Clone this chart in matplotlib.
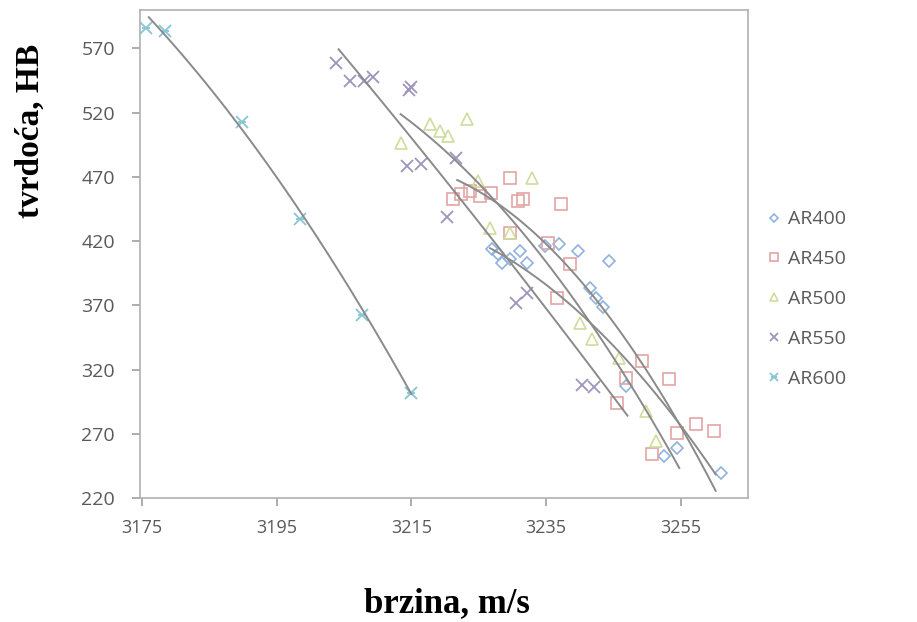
import numpy as np
import matplotlib
matplotlib.use("Agg")
import matplotlib.pyplot as plt
from matplotlib.legend_handler import HandlerTuple

ar400_x = [3227.0, 3227.9, 3228.5, 3229.7, 3231.1, 3232.2, 3234.8, 3237.0, 3239.7,
           3244.4, 3241.5, 3242.4, 3243.4, 3246.9, 3252.5, 3254.5, 3261.0]
ar400_y = [414.1, 410.2, 403.2, 406.3, 412.5, 403.2, 416.4, 418.0, 412.5,
           404.7, 383.7, 375.9, 368.9, 307.3, 252.7, 259.0, 239.5]

ar450_x = [3221.2, 3222.3, 3223.7, 3225.2, 3226.8, 3229.7, 3230.8, 3231.6, 3237.3, 3229.7,
           3235.3, 3238.5, 3236.7, 3245.6, 3249.2, 3253.3, 3254.5, 3250.8, 3257.3, 3259.9, 3246.9]
ar450_y = [453.0, 457.0, 459.3, 455.4, 457.7, 469.4, 451.5, 453.0, 449.2, 426.5,
           418.8, 402.4, 375.9, 294.0, 326.8, 312.8, 270.7, 254.3, 277.7, 272.2, 313.5]

ar500_x = [3213.4, 3217.8, 3219.3, 3220.5, 3223.3, 3232.9, 3224.9, 3226.7, 3229.7,
           3240.0, 3241.8, 3245.9, 3249.9, 3251.4]
ar500_y = [496.7, 511.5, 506.1, 502.2, 515.4, 469.4, 467.1, 430.4, 426.5,
           356.4, 343.9, 329.1, 287.8, 264.4]

ar550_x = [3203.8, 3205.9, 3207.9, 3209.3, 3214.6, 3214.9, 3214.3, 3216.4, 3221.7,
           3220.3, 3230.5, 3232.2, 3240.4, 3242.1]
ar550_y = [559.0, 545.0, 545.0, 548.1, 538.0, 540.3, 478.8, 480.3, 485.0,
           439.0, 372.0, 379.8, 308.1, 306.5]

ar600_x = [3175.6, 3178.4, 3189.9, 3198.5, 3207.6, 3215.0]
ar600_y = [586.3, 584.0, 513.0, 437.5, 362.6, 301.8]

# points
trend400_x = [3226.7, 3237.0, 3253.0, 3260.2]
trend400_y = [416.4, 373.5, 295.6, 235.6]
trend450_x = [3221.8, 3237.8, 3254.0, 3260.2]
trend450_y = [469.4, 396.9, 295.6, 219.2]
trend500_x = [3213.4, 3223.7, 3236.6, 3248.1, 3254.8]
trend500_y = [519.3, 469.4, 399.3, 295.6, 247.3]
trend550_x = [3204.2, 3209.0, 3231.6, 3239.5, 3247.1]
trend550_y = [568.4, 539.6, 396.9, 326.8, 288.6]
trend600_x = [3176.0, 3189.8, 3198.2, 3215.0]
trend600_y = [593.3, 511.5, 441.4, 301.8]

x_ticks = [3175, 3195, 3215, 3235, 3255]
y_ticks = [220, 270, 320, 370, 420, 470, 520, 570]

fig = plt.figure(figsize=(9.17, 6.22), dpi=100)
ax = fig.add_axes([0.1527, 0.199, 0.663, 0.785])

ms = 9
h400, = ax.plot(ar400_x, ar400_y, 'D', ms=6.5, mfc='none', mec='#8fb3dc', mew=1.2, ls='none')
h450, = ax.plot(ar450_x, ar450_y, 's', ms=ms, mfc='none', mec='#e3a4a4', mew=1.2, ls='none')
h500, = ax.plot(ar500_x, ar500_y, '^', ms=ms, mfc='none', mec='#cfdc9c', mew=1.2, ls='none')
h550, = ax.plot(ar550_x, ar550_y, 'x', ms=ms, mec='#9d95bd', mew=1.3, ls='none')
h600a, = ax.plot(ar600_x, ar600_y, 'x', ms=ms, mec='#86c6d6', mew=1.3, ls='none')
h600b, = ax.plot(ar600_x, ar600_y, '_', ms=ms * 0.7, mec='#86c6d6', mew=1.3, ls='none')

for tx, ty in [(trend400_x, trend400_y), (trend450_x, trend450_y), (trend500_x, trend500_y),
               (trend550_x, trend550_y), (trend600_x, trend600_y)]:
    c = np.polyfit(tx, ty, 2)
    xs = np.linspace(min(tx), max(tx), 100)
    ax.plot(xs, np.polyval(c, xs), color='#8a8a8a', lw=1.4)

ax.set_xlim(3174.7, 3265)
ax.set_ylim(220, 600)
ax.set_xticks(x_ticks)
ax.set_yticks(y_ticks)
for s in ax.spines.values():
    s.set_color('#b0b0b0')
    s.set_linewidth(1.2)
ax.tick_params(axis='both', colors='#a0a0a0', length=6, width=1.2, labelcolor='#595959')
ax.tick_params(axis='y', pad=12, labelsize=14)
ax.tick_params(axis='x', pad=9, labelsize=13)
for lab in ax.get_xticklabels() + ax.get_yticklabels():
    lab.set_fontfamily('Open Sans')

fig.text(0.487, 0.03, 'brzina, m/s', ha='center', va='center', fontsize=25,
         fontweight='bold', family='Liberation Serif')
fig.text(0.033, 0.79, 'tvrdoća, HB', ha='center', va='center', fontsize=24,
         fontweight='bold', family='Liberation Serif', rotation=90)

leg = fig.legend([h400, h450, h500, h550, (h600a, h600b)],
                 ['AR400', 'AR450', 'AR500', 'AR550', 'AR600'],
                 handler_map={tuple: HandlerTuple(ndivide=1, pad=0)},
                 loc='upper left', bbox_to_anchor=(0.815, 0.69), frameon=False,
                 prop={'family': 'Open Sans', 'size': 14}, labelspacing=1.13,
                 handlelength=0.9, handletextpad=0.3, markerscale=0.6)
for t in leg.get_texts():
    t.set_color('#595959')

fig.savefig('out.png', dpi=100)
